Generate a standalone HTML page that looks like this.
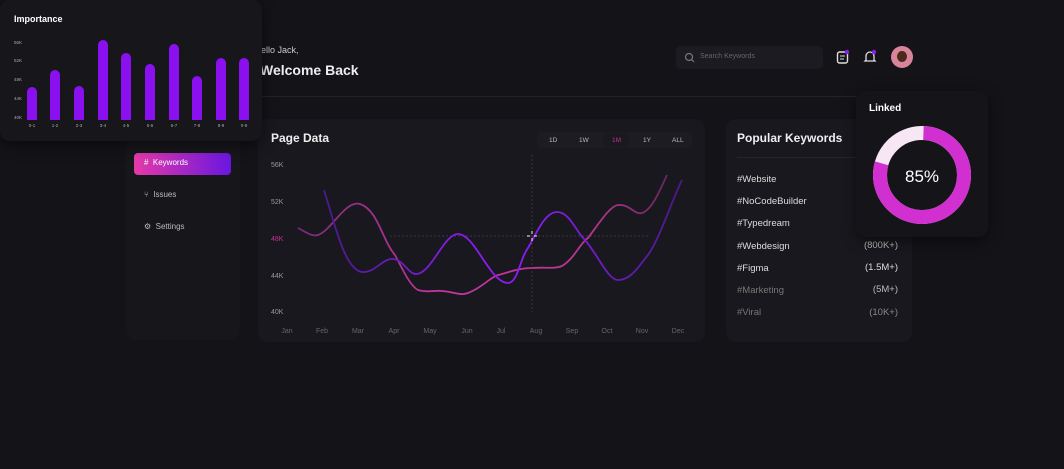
<!DOCTYPE html>
<html><head><style>
*{margin:0;padding:0;box-sizing:border-box}
body{width:1064px;height:469px;background:#141318;font-family:"Liberation Sans",sans-serif;position:relative;overflow:hidden;color:#fff}
.a{position:absolute}
.card{position:absolute;background:#19181e;border-radius:10px}
</style></head><body>
<div class="card" style="left:126px;top:100px;width:114px;height:240px;background:#17161b"></div>
<div class="a" style="left:261px;top:45px;font-size:9px;color:#ccc">ello Jack,</div>
<div class="a" style="left:260px;top:62px;font-size:14px;font-weight:bold;color:#eee">Welcome Back</div>
<div class="a" style="left:258px;top:96px;width:600px;height:1px;background:#24232a"></div>
<div class="a" style="left:676px;top:46px;width:147px;height:23px;background:#1c1b21;border-radius:5px"></div>
<svg class="a" style="left:684px;top:52px" width="11" height="11"><circle cx="5" cy="5" r="3.5" fill="none" stroke="#777" stroke-width="1.2"/><line x1="7.5" y1="7.5" x2="10" y2="10" stroke="#777" stroke-width="1.2"/></svg>
<div class="a" style="left:700px;top:53px;font-size:7px;color:#666">Search Keywords</div>
<svg class="a" style="left:836px;top:49px" width="14" height="16"><rect x="1.5" y="3" width="10" height="11" rx="2" fill="none" stroke="#ddd" stroke-width="1.4"/><line x1="4" y1="7" x2="9" y2="7" stroke="#ddd"/><line x1="4" y1="10" x2="8" y2="10" stroke="#ddd"/><circle cx="11" cy="3" r="2.2" fill="#8a1cf0"/></svg>
<svg class="a" style="left:863px;top:49px" width="14" height="16"><path d="M3 11 V7 a4 4 0 0 1 8 0 V11 L12 12 H2 Z" fill="none" stroke="#ddd" stroke-width="1.3"/><circle cx="11" cy="3" r="2.2" fill="#8a1cf0"/></svg>
<div class="a" style="left:891px;top:46px;width:22px;height:22px;border-radius:50%;background:#d9849a"></div>
<div class="a" style="left:897px;top:51px;width:10px;height:11px;border-radius:50%;background:#4a2a1c"></div>
<div class="a" style="left:134px;top:153px;width:97px;height:22px;border-radius:4px;background:linear-gradient(90deg,#e53aa8,#6a16e0)"></div>
<div class="a" style="left:144px;top:158px;font-size:8px">#&nbsp;&nbsp;Keywords</div>
<div class="a" style="left:144px;top:190px;font-size:8px;color:#bbb">⑂&nbsp;&nbsp;Issues</div>
<div class="a" style="left:144px;top:222px;font-size:8px;color:#bbb">⚙&nbsp;&nbsp;Settings</div>

<div class="card" style="left:258px;top:119px;width:447px;height:223px"></div>
<div class="a" style="left:271px;top:131px;font-size:12px;font-weight:bold;color:#eee">Page Data</div>
<div class="a" style="left:537px;top:132px;width:155px;height:16px;background:#1d1c22;border-radius:4px"></div>
<div class="a" style="left:603px;top:133px;width:26px;height:14px;background:#1a191e;border-radius:3px"></div>
<div class="a" style="font-size:6.5px;color:#bbb;top:137px;left:549px">1D</div>
<div class="a" style="font-size:6.5px;color:#bbb;top:137px;left:579px">1W</div>
<div class="a" style="font-size:6.5px;color:#c03090;top:137px;left:612px">1M</div>
<div class="a" style="font-size:6.5px;color:#bbb;top:137px;left:643px">1Y</div>
<div class="a" style="font-size:6.5px;color:#bbb;top:137px;left:672px">ALL</div>
<svg class="a" style="left:0;top:0" width="1064" height="469">
<defs><linearGradient id="pg" x1="0" x2="1"><stop offset="0" stop-color="#7a2a78"/><stop offset=".4" stop-color="#c0379e"/><stop offset=".8" stop-color="#b53590"/><stop offset="1" stop-color="#6a2660"/></linearGradient>
<linearGradient id="vg" x1="0" x2="1"><stop offset="0" stop-color="#4a1a8a"/><stop offset=".4" stop-color="#8a1cf0"/><stop offset=".6" stop-color="#8a1cf0"/><stop offset="1" stop-color="#4a1a8a"/></linearGradient></defs>
<g font-size="7" fill="#999" font-family="Liberation Sans">
<text x="271" y="167">56K</text><text x="271" y="204">52K</text><text x="271" y="241" fill="#c03090">48K</text><text x="271" y="278">44K</text><text x="271" y="314">40K</text>
<g text-anchor="middle" fill="#666"><text x="287" y="333">Jan</text><text x="322" y="333">Feb</text><text x="358" y="333">Mar</text><text x="394" y="333">Apr</text><text x="430" y="333">May</text><text x="467" y="333">Jun</text><text x="501" y="333">Jul</text><text x="536" y="333">Aug</text><text x="572" y="333">Sep</text><text x="607" y="333">Oct</text><text x="642" y="333">Nov</text><text x="678" y="333">Dec</text></g></g>
<line x1="532" y1="155" x2="532" y2="312" stroke="#444" stroke-dasharray="2 2" stroke-width=".7"/>
<line x1="390" y1="236" x2="650" y2="236" stroke="#444" stroke-dasharray="2 2" stroke-width=".7"/>
<path d="M298 228 C306 232,312 237,318 235 C332 230,345 200,360 204 C378 210,382 240,395 255 C402 268,410 286,418 290 C428 293,435 290,442 291 C455 292,460 296,468 293 C484 287,490 276,502 274 C515 270,522 268,532 268 C545 267,555 269,562 266 C575 258,580 243,588 238 C600 222,610 206,618 205 C630 204,634 215,642 213 C652 210,660 190,667 175" fill="none" stroke="url(#pg)" stroke-width="1.8"/>
<path d="M324 190 C335 225,345 270,362 272 C375 273,382 259,392 259 C404 259,408 275,417 274 C432 272,444 234,458 234 C475 234,490 283,508 283 C518 283,520 258,528 248 C536 234,545 212,557 212 C570 212,576 232,585 240 C598 255,608 280,618 280 C632 280,640 264,648 255 C660 238,672 200,682 180" fill="none" stroke="url(#vg)" stroke-width="1.8"/>
<g stroke="#eee" stroke-width="1"><line x1="527" y1="236" x2="530" y2="236"/><line x1="534" y1="236" x2="537" y2="236"/><line x1="532" y1="231" x2="532" y2="234"/><line x1="532" y1="238" x2="532" y2="241"/></g>
</svg>

<div class="card" style="left:726px;top:119px;width:186px;height:223px"></div>
<div class="a" style="left:737px;top:131px;font-size:12px;font-weight:bold;color:#eee">Popular Keywords</div>
<div class="a" style="left:737px;top:157px;width:130px;height:1px;background:#26252b"></div>
<div class="a" style="left:737px;top:169px;font-size:9.5px;line-height:22.2px;color:#ddd">#Website<br>#NoCodeBuilder<br>#Typedream<br>#Webdesign<br>#Figma<br><span style="color:#777">#Marketing<br>#Viral</span></div>
<div class="a" style="left:840px;top:235px;width:58px;font-size:9.5px;line-height:22.2px;color:#bbb;text-align:right">(800K+)<br><span style="color:#ddd">(1.5M+)</span><br>(5M+)<br><span style="color:#888">(10K+)</span></div>

<div class="card" style="left:856px;top:91px;width:132px;height:146px;background:#151419;box-shadow:0 4px 14px rgba(0,0,0,.5)"></div>
<div class="a" style="left:869px;top:103px;font-size:10px;font-weight:bold">Linked</div>
<svg class="a" style="left:870px;top:123px" width="104" height="104">
<circle cx="52" cy="52" r="42" fill="none" stroke="#f7e6f4" stroke-width="14"/>
<circle cx="52" cy="52" r="42" fill="none" stroke="#d12fcf" stroke-width="14" stroke-dasharray="208 300" transform="rotate(-88 52 52)"/>
<text x="52" y="59" text-anchor="middle" font-size="17" fill="#fff" font-family="Liberation Sans">85%</text></svg>

<div class="card" style="left:0;top:0;width:262px;height:141px;background:#17161b;box-shadow:0 4px 14px rgba(0,0,0,.5)"></div>
<div class="a" style="left:14px;top:14px;font-size:9px;font-weight:bold">Importance</div>
<svg class="a" style="left:0;top:0" width="262" height="141">
<g fill="#8a10f0">
<rect x="27" y="87" width="10" height="38" rx="5"/><rect x="50" y="70" width="10" height="55" rx="5"/><rect x="74" y="86" width="10" height="39" rx="5"/><rect x="98" y="40" width="10" height="85" rx="5"/><rect x="121" y="53" width="10" height="72" rx="5"/><rect x="145" y="64" width="10" height="61" rx="5"/><rect x="169" y="44" width="10" height="81" rx="5"/><rect x="192" y="76" width="10" height="49" rx="5"/><rect x="216" y="58" width="10" height="67" rx="5"/><rect x="239" y="58" width="10" height="67" rx="5"/></g>
<rect x="20" y="120" width="235" height="8" fill="#17161b"/>
<g font-size="4.5" fill="#aaa" font-family="Liberation Sans"><text x="14" y="44">56K</text><text x="14" y="62">52K</text><text x="14" y="81">48K</text><text x="14" y="100">44K</text><text x="14" y="119">40K</text>
<g text-anchor="middle"><text x="32" y="127">0-1</text><text x="55" y="127">1-2</text><text x="79" y="127">2-3</text><text x="103" y="127">3-4</text><text x="126" y="127">4-5</text><text x="150" y="127">5-6</text><text x="174" y="127">6-7</text><text x="197" y="127">7-8</text><text x="221" y="127">8-9</text><text x="244" y="127">0-9</text></g></g>
</svg>
</body></html>
